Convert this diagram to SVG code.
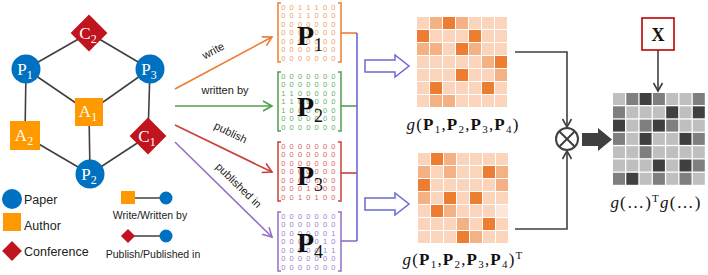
<svg xmlns="http://www.w3.org/2000/svg" width="708" height="275" viewBox="0 0 708 275">
<style>
.edge{stroke:#404040;stroke-width:1.6;fill:none}
.paper{fill:#0070c0}
.author{fill:#ff9900}
.conf{fill:#c0141e}
.nl{font-family:"Liberation Serif",serif;font-size:17px;fill:#fff;text-anchor:middle}
.nl tspan{font-size:12px}
.lg{font-family:"Liberation Sans",Arial,sans-serif;font-size:12.5px;fill:#222}
.lg2{font-family:"Liberation Sans",Arial,sans-serif;font-size:10.5px;fill:#222;text-anchor:middle}
.al{font-family:"Liberation Sans",Arial,sans-serif;font-size:11px;fill:#222;text-anchor:middle}
.dg{font-family:"Liberation Sans",Arial,sans-serif;font-size:7.5px;text-anchor:middle}
.bigP{font-family:"Liberation Serif",serif;font-size:28px;font-weight:bold;fill:#111}
.bigP tspan{font-size:18px;font-weight:normal}
.math{font-family:"Liberation Serif",serif;font-size:17px;fill:#111;letter-spacing:1.2px}
.br{fill:none;stroke-width:1.5}
.L{fill:#fbd5bb}.M{fill:#f4b183}.D{fill:#ed7d31}.V{fill:#fde7d9}
.g1{fill:#bfbfbf}.g2{fill:#7f7f7f}.g3{fill:#404040}
</style>
<defs>
<marker id="aO" markerWidth="12" markerHeight="12" refX="10" refY="6" orient="auto" markerUnits="userSpaceOnUse"><path d="M1,1 L10,6 L1,11" fill="none" stroke="#ed7d31" stroke-width="1.6"/></marker>
<marker id="aG" markerWidth="12" markerHeight="12" refX="10" refY="6" orient="auto" markerUnits="userSpaceOnUse"><path d="M1,1 L10,6 L1,11" fill="none" stroke="#4f9f4f" stroke-width="1.6"/></marker>
<marker id="aR" markerWidth="12" markerHeight="12" refX="10" refY="6" orient="auto" markerUnits="userSpaceOnUse"><path d="M1,1 L10,6 L1,11" fill="none" stroke="#c8403c" stroke-width="1.6"/></marker>
<marker id="aP" markerWidth="12" markerHeight="12" refX="10" refY="6" orient="auto" markerUnits="userSpaceOnUse"><path d="M1,1 L10,6 L1,11" fill="none" stroke="#9370c8" stroke-width="1.6"/></marker>
<marker id="aK" markerWidth="12" markerHeight="12" refX="10" refY="6" orient="auto" markerUnits="userSpaceOnUse"><path d="M2,1.5 L10,6 L2,10.5" fill="none" stroke="#404040" stroke-width="1.6"/></marker>
</defs>
<rect width="708" height="275" fill="#fff"/>

<g id="connectors">
<path class="edge" d="M26,69 L89,33 L150,69"/>
<path class="edge" d="M26,69 L89,112 L150,69"/>
<path class="edge" d="M26,69 L25,136 L90,174 L148,136 L150,69"/>
<path class="edge" d="M89,112 L90,174"/>
<line x1="128" y1="236" x2="166" y2="236" class="edge"/>
<line x1="128" y1="198" x2="166" y2="198" class="edge"/>
<line x1="175" y1="89" x2="272" y2="37" stroke="#ed7d31" stroke-width="1.6" marker-end="url(#aO)"/>
<line x1="175" y1="106" x2="272" y2="106" stroke="#4f9f4f" stroke-width="1.6" marker-end="url(#aG)"/>
<line x1="175" y1="125" x2="272" y2="172" stroke="#c8403c" stroke-width="1.6" marker-end="url(#aR)"/>
<line x1="175" y1="142" x2="272" y2="237" stroke="#9370c8" stroke-width="1.6" marker-end="url(#aP)"/>
<line x1="341" y1="33" x2="357" y2="33" stroke="#ed7d31" stroke-width="1.6"/>
<line x1="341" y1="106" x2="357" y2="106" stroke="#4f9f4f" stroke-width="1.6"/>
<line x1="341" y1="173" x2="357" y2="173" stroke="#c8403c" stroke-width="1.6"/>
<line x1="341" y1="241" x2="357" y2="241" stroke="#9370c8" stroke-width="1.6"/>
<line x1="357" y1="33" x2="357" y2="241" stroke="#6a6ad0" stroke-width="1.6"/>
<polygon points="365,60 395,60 395,55 409,66 395,77 395,72 365,72" fill="#fff" stroke="#6a6ad0" stroke-width="1.5"/>
<polygon points="365,198 395,198 395,193 409,204 395,215 395,210 365,210" fill="#fff" stroke="#6a6ad0" stroke-width="1.5"/>
<path class="edge" d="M515,52 H567 V127" marker-end="url(#aK)"/>
<path class="edge" d="M515,229 H567 V151" marker-end="url(#aK)"/>
<line x1="658" y1="50" x2="658" y2="91" class="edge" marker-end="url(#aK)"/>
<polygon points="582,133 598,133 598,128 612,139.5 598,151 598,146 582,146" fill="#404040"/>
<text class="al" transform="translate(215,54) rotate(-28)">write</text>
<text class="al" x="225" y="94">written by</text>
<text class="al" transform="translate(229,136) rotate(26)">publish</text>
<text class="al" transform="translate(236,188) rotate(44)">published in</text>
</g>

<g id="C2"><rect x="76" y="20" width="26" height="26" class="conf" transform="rotate(45 89 33)"/><text class="nl" x="88" y="39">C<tspan dy="4">2</tspan></text></g>
<g id="P1"><circle cx="26" cy="69" r="14.5" class="paper"/><text class="nl" x="25" y="75">P<tspan dy="4">1</tspan></text></g>
<g id="P3"><circle cx="150" cy="69" r="14.5" class="paper"/><text class="nl" x="149" y="75">P<tspan dy="4">3</tspan></text></g>
<g id="A1"><rect x="75" y="98" width="28" height="28" class="author"/><text class="nl" x="88" y="117">A<tspan dy="4">1</tspan></text></g>
<g id="A2"><rect x="10" y="121" width="30" height="29" class="author"/><text class="nl" x="24" y="141">A<tspan dy="4">2</tspan></text></g>
<g id="C1"><rect x="135" y="123" width="26" height="26" class="conf" transform="rotate(45 148 136)"/><text class="nl" x="147" y="142">C<tspan dy="4">1</tspan></text></g>
<g id="P2"><circle cx="90" cy="174" r="14.5" class="paper"/><text class="nl" x="89" y="180">P<tspan dy="4">2</tspan></text></g>

<g id="legend">
<circle cx="12" cy="199" r="10" class="paper"/><text class="lg" x="24" y="204">Paper</text>
<rect x="3" y="213" width="18" height="18" class="author"/><text class="lg" x="24" y="230">Author</text>
<rect x="5" y="244" width="14" height="14" class="conf" transform="rotate(45 12 251)"/><text class="lg" x="24" y="256">Conference</text>
<rect x="121" y="191" width="14" height="13" class="author"/><circle cx="166" cy="198" r="6.5" class="paper"/>
<text class="lg2" x="150" y="219">Write/Written by</text>
<rect x="123" y="231" width="10" height="10" class="conf" transform="rotate(45 128 236)"/><circle cx="166" cy="236" r="6.5" class="paper"/>
<text class="lg2" x="153" y="258">Publish/Published in</text>
</g>

<g id="matrix-P1">
<path class="br" stroke="#ed7d31" d="M281,3 H278 V62 H281 M338,3 H341 V62 H338"/>
<g class="dg" fill="#f0a060">
<text x="283.3 291.7 300 308.3 316.7 325 333.3" y="9.5">0011100</text>
<text x="283.3 291.7 300 308.3 316.7 325 333.3" y="18">0011000</text>
<text x="283.3 291.7 300 308.3 316.7 325 333.3" y="26.5">0000000</text>
<text x="283.3 291.7 300 308.3 316.7 325 333.3" y="35">0000000</text>
<text x="283.3 291.7 300 308.3 316.7 325 333.3" y="43.5">0000000</text>
<text x="283.3 291.7 300 308.3 316.7 325 333.3" y="52">0000000</text>
<text x="283.3 291.7 300 308.3 316.7 325 333.3" y="60.5">0000000</text>
</g>
<text class="bigP" x="297" y="45">P<tspan dy="6">1</tspan></text>
</g>

<g id="matrix-P2">
<path class="br" stroke="#4f9f4f" d="M281,72 H278 V131 H281 M338,72 H341 V131 H338"/>
<g class="dg" fill="#5fb05f">
<text x="283.3 291.7 300 308.3 316.7 325 333.3" y="78.5">0000000</text>
<text x="283.3 291.7 300 308.3 316.7 325 333.3" y="87">0000000</text>
<text x="283.3 291.7 300 308.3 316.7 325 333.3" y="95.5">1100000</text>
<text x="283.3 291.7 300 308.3 316.7 325 333.3" y="104">1100000</text>
<text x="283.3 291.7 300 308.3 316.7 325 333.3" y="112.5">1000000</text>
<text x="283.3 291.7 300 308.3 316.7 325 333.3" y="121">0000000</text>
<text x="283.3 291.7 300 308.3 316.7 325 333.3" y="129.5">0000000</text>
</g>
<text class="bigP" x="297" y="116">P<tspan dy="6">2</tspan></text>
</g>

<g id="matrix-P3">
<path class="br" stroke="#c8403c" d="M281,142 H278 V201 H281 M338,142 H341 V201 H338"/>
<g class="dg" fill="#e06060">
<text x="283.3 291.7 300 308.3 316.7 325 333.3" y="148.5">0000000</text>
<text x="283.3 291.7 300 308.3 316.7 325 333.3" y="157">0000000</text>
<text x="283.3 291.7 300 308.3 316.7 325 333.3" y="165.5">0000000</text>
<text x="283.3 291.7 300 308.3 316.7 325 333.3" y="174">0000000</text>
<text x="283.3 291.7 300 308.3 316.7 325 333.3" y="182.5">0000000</text>
<text x="283.3 291.7 300 308.3 316.7 325 333.3" y="191">0001000</text>
<text x="283.3 291.7 300 308.3 316.7 325 333.3" y="199.5">0010100</text>
</g>
<text class="bigP" x="297" y="185">P<tspan dy="6">3</tspan></text>
</g>

<g id="matrix-P4">
<path class="br" stroke="#9370c8" d="M281,212 H278 V271 H281 M338,212 H341 V271 H338"/>
<g class="dg" fill="#a080d0">
<text x="283.3 291.7 300 308.3 316.7 325 333.3" y="218.5">0000000</text>
<text x="283.3 291.7 300 308.3 316.7 325 333.3" y="227">0000000</text>
<text x="283.3 291.7 300 308.3 316.7 325 333.3" y="235.5">0000001</text>
<text x="283.3 291.7 300 308.3 316.7 325 333.3" y="244">0000010</text>
<text x="283.3 291.7 300 308.3 316.7 325 333.3" y="252.5">0000011</text>
<text x="283.3 291.7 300 308.3 316.7 325 333.3" y="261">0000000</text>
<text x="283.3 291.7 300 308.3 316.7 325 333.3" y="269.5">0000000</text>
</g>
<text class="bigP" x="297" y="252">P<tspan dy="6">4</tspan></text>
</g>

<g id="heatmap-g">
<rect x="417" y="17" width="12" height="12" class="L"/><rect x="430" y="17" width="12" height="12" class="M"/><rect x="443" y="17" width="12" height="12" class="D"/><rect x="456" y="17" width="12" height="12" class="M"/><rect x="469" y="17" width="12" height="12" class="L"/><rect x="482" y="17" width="12" height="12" class="L"/><rect x="495" y="17" width="12" height="12" class="L"/>
<rect x="417" y="30" width="12" height="12" class="D"/><rect x="430" y="30" width="12" height="12" class="L"/><rect x="443" y="30" width="12" height="12" class="L"/><rect x="456" y="30" width="12" height="12" class="L"/><rect x="469" y="30" width="12" height="12" class="D"/><rect x="482" y="30" width="12" height="12" class="L"/><rect x="495" y="30" width="12" height="12" class="L"/>
<rect x="417" y="43" width="12" height="12" class="M"/><rect x="430" y="43" width="12" height="12" class="M"/><rect x="443" y="43" width="12" height="12" class="L"/><rect x="456" y="43" width="12" height="12" class="D"/><rect x="469" y="43" width="12" height="12" class="M"/><rect x="482" y="43" width="12" height="12" class="L"/><rect x="495" y="43" width="12" height="12" class="L"/>
<rect x="417" y="56" width="12" height="12" class="L"/><rect x="430" y="56" width="12" height="12" class="L"/><rect x="443" y="56" width="12" height="12" class="L"/><rect x="456" y="56" width="12" height="12" class="L"/><rect x="469" y="56" width="12" height="12" class="L"/><rect x="482" y="56" width="12" height="12" class="M"/><rect x="495" y="56" width="12" height="12" class="D"/>
<rect x="417" y="69" width="12" height="12" class="L"/><rect x="430" y="69" width="12" height="12" class="L"/><rect x="443" y="69" width="12" height="12" class="L"/><rect x="456" y="69" width="12" height="12" class="D"/><rect x="469" y="69" width="12" height="12" class="L"/><rect x="482" y="69" width="12" height="12" class="L"/><rect x="495" y="69" width="12" height="12" class="M"/>
<rect x="417" y="82" width="12" height="12" class="L"/><rect x="430" y="82" width="12" height="12" class="D"/><rect x="443" y="82" width="12" height="12" class="L"/><rect x="456" y="82" width="12" height="12" class="L"/><rect x="469" y="82" width="12" height="12" class="L"/><rect x="482" y="82" width="12" height="12" class="D"/><rect x="495" y="82" width="12" height="12" class="L"/>
<rect x="417" y="95" width="12" height="12" class="L"/><rect x="430" y="95" width="12" height="12" class="M"/><rect x="443" y="95" width="12" height="12" class="M"/><rect x="456" y="95" width="12" height="12" class="L"/><rect x="469" y="95" width="12" height="12" class="L"/><rect x="482" y="95" width="12" height="12" class="L"/><rect x="495" y="95" width="12" height="12" class="L"/>
<text class="math" x="463" y="130" text-anchor="middle"><tspan font-style="italic">g</tspan>(<tspan font-weight="bold">P</tspan><tspan font-size="11" dy="3">1</tspan><tspan dy="-3">,</tspan><tspan font-weight="bold">P</tspan><tspan font-size="11" dy="3">2</tspan><tspan dy="-3">,</tspan><tspan font-weight="bold">P</tspan><tspan font-size="11" dy="3">3</tspan><tspan dy="-3">,</tspan><tspan font-weight="bold">P</tspan><tspan font-size="11" dy="3">4</tspan><tspan dy="-3">)</tspan></text>
</g>

<g id="heatmap-gT">
<rect x="418" y="153" width="12" height="12" class="L"/><rect x="431" y="153" width="12" height="12" class="D"/><rect x="444" y="153" width="12" height="12" class="M"/><rect x="457" y="153" width="12" height="12" class="L"/><rect x="470" y="153" width="12" height="12" class="L"/><rect x="483" y="153" width="12" height="12" class="L"/><rect x="496" y="153" width="12" height="12" class="L"/>
<rect x="418" y="166" width="12" height="12" class="M"/><rect x="431" y="166" width="12" height="12" class="L"/><rect x="444" y="166" width="12" height="12" class="M"/><rect x="457" y="166" width="12" height="12" class="L"/><rect x="470" y="166" width="12" height="12" class="L"/><rect x="483" y="166" width="12" height="12" class="D"/><rect x="496" y="166" width="12" height="12" class="M"/>
<rect x="418" y="179" width="12" height="12" class="D"/><rect x="431" y="179" width="12" height="12" class="L"/><rect x="444" y="179" width="12" height="12" class="L"/><rect x="457" y="179" width="12" height="12" class="L"/><rect x="470" y="179" width="12" height="12" class="L"/><rect x="483" y="179" width="12" height="12" class="L"/><rect x="496" y="179" width="12" height="12" class="M"/>
<rect x="418" y="192" width="12" height="12" class="M"/><rect x="431" y="192" width="12" height="12" class="L"/><rect x="444" y="192" width="12" height="12" class="D"/><rect x="457" y="192" width="12" height="12" class="L"/><rect x="470" y="192" width="12" height="12" class="D"/><rect x="483" y="192" width="12" height="12" class="L"/><rect x="496" y="192" width="12" height="12" class="L"/>
<rect x="418" y="205" width="12" height="12" class="L"/><rect x="431" y="205" width="12" height="12" class="D"/><rect x="444" y="205" width="12" height="12" class="M"/><rect x="457" y="205" width="12" height="12" class="L"/><rect x="470" y="205" width="12" height="12" class="L"/><rect x="483" y="205" width="12" height="12" class="L"/><rect x="496" y="205" width="12" height="12" class="V"/>
<rect x="418" y="218" width="12" height="12" class="L"/><rect x="431" y="218" width="12" height="12" class="L"/><rect x="444" y="218" width="12" height="12" class="L"/><rect x="457" y="218" width="12" height="12" class="M"/><rect x="470" y="218" width="12" height="12" class="L"/><rect x="483" y="218" width="12" height="12" class="D"/><rect x="496" y="218" width="12" height="12" class="L"/>
<rect x="418" y="231" width="12" height="12" class="L"/><rect x="431" y="231" width="12" height="12" class="L"/><rect x="444" y="231" width="12" height="12" class="L"/><rect x="457" y="231" width="12" height="12" class="D"/><rect x="470" y="231" width="12" height="12" class="M"/><rect x="483" y="231" width="12" height="12" class="L"/><rect x="496" y="231" width="12" height="12" class="L"/>
<text class="math" x="463" y="265" text-anchor="middle"><tspan font-style="italic">g</tspan>(<tspan font-weight="bold">P</tspan><tspan font-size="11" dy="3">1</tspan><tspan dy="-3">,</tspan><tspan font-weight="bold">P</tspan><tspan font-size="11" dy="3">2</tspan><tspan dy="-3">,</tspan><tspan font-weight="bold">P</tspan><tspan font-size="11" dy="3">3</tspan><tspan dy="-3">,</tspan><tspan font-weight="bold">P</tspan><tspan font-size="11" dy="3">4</tspan><tspan dy="-3">)</tspan><tspan font-size="11" dy="-6">T</tspan></text>
</g>

<g id="otimes">
<circle cx="567" cy="139" r="11" fill="#fff" stroke="#404040" stroke-width="2"/>
<path d="M559.2,131.2 L574.8,146.8 M574.8,131.2 L559.2,146.8" stroke="#404040" stroke-width="2"/>
</g>

<g id="X">
<rect x="642" y="18" width="32" height="32" fill="#fff" stroke="#c00000" stroke-width="1.6"/>
<text x="658" y="41" text-anchor="middle" font-family="'Liberation Serif',serif" font-weight="bold" font-size="18" fill="#111">X</text>
</g>

<g id="heatmap-result">
<rect x="613" y="93" width="12" height="12" class="g1"/><rect x="626.3" y="93" width="12" height="12" class="g2"/><rect x="639.6" y="93" width="12" height="12" class="g3"/><rect x="652.9" y="93" width="12" height="12" class="g2"/><rect x="666.2" y="93" width="12" height="12" class="g1"/><rect x="679.5" y="93" width="12" height="12" class="g1"/><rect x="692.8" y="93" width="12" height="12" class="g2"/>
<rect x="613" y="106.3" width="12" height="12" class="g2"/><rect x="626.3" y="106.3" width="12" height="12" class="g1"/><rect x="639.6" y="106.3" width="12" height="12" class="g1"/><rect x="652.9" y="106.3" width="12" height="12" class="g1"/><rect x="666.2" y="106.3" width="12" height="12" class="g3"/><rect x="679.5" y="106.3" width="12" height="12" class="g1"/><rect x="692.8" y="106.3" width="12" height="12" class="g3"/>
<rect x="613" y="119.6" width="12" height="12" class="g3"/><rect x="626.3" y="119.6" width="12" height="12" class="g1"/><rect x="639.6" y="119.6" width="12" height="12" class="g2"/><rect x="652.9" y="119.6" width="12" height="12" class="g3"/><rect x="666.2" y="119.6" width="12" height="12" class="g2"/><rect x="679.5" y="119.6" width="12" height="12" class="g1"/><rect x="692.8" y="119.6" width="12" height="12" class="g1"/>
<rect x="613" y="132.9" width="12" height="12" class="g2"/><rect x="626.3" y="132.9" width="12" height="12" class="g1"/><rect x="639.6" y="132.9" width="12" height="12" class="g3"/><rect x="652.9" y="132.9" width="12" height="12" class="g1"/><rect x="666.2" y="132.9" width="12" height="12" class="g1"/><rect x="679.5" y="132.9" width="12" height="12" class="g3"/><rect x="692.8" y="132.9" width="12" height="12" class="g2"/>
<rect x="613" y="146.2" width="12" height="12" class="g1"/><rect x="626.3" y="146.2" width="12" height="12" class="g1"/><rect x="639.6" y="146.2" width="12" height="12" class="g2"/><rect x="652.9" y="146.2" width="12" height="12" class="g1"/><rect x="666.2" y="146.2" width="12" height="12" class="g1"/><rect x="679.5" y="146.2" width="12" height="12" class="g1"/><rect x="692.8" y="146.2" width="12" height="12" class="g1"/>
<rect x="613" y="159.5" width="12" height="12" class="g1"/><rect x="626.3" y="159.5" width="12" height="12" class="g1"/><rect x="639.6" y="159.5" width="12" height="12" class="g1"/><rect x="652.9" y="159.5" width="12" height="12" class="g3"/><rect x="666.2" y="159.5" width="12" height="12" class="g1"/><rect x="679.5" y="159.5" width="12" height="12" class="g3"/><rect x="692.8" y="159.5" width="12" height="12" class="g2"/>
<rect x="613" y="172.8" width="12" height="12" class="g2"/><rect x="626.3" y="172.8" width="12" height="12" class="g3"/><rect x="639.6" y="172.8" width="12" height="12" class="g1"/><rect x="652.9" y="172.8" width="12" height="12" class="g2"/><rect x="666.2" y="172.8" width="12" height="12" class="g1"/><rect x="679.5" y="172.8" width="12" height="12" class="g2"/><rect x="692.8" y="172.8" width="12" height="12" class="g1"/>
<text class="math" x="656" y="208" text-anchor="middle"><tspan font-style="italic">g</tspan>(…)<tspan font-size="11" dy="-6">T</tspan><tspan font-style="italic" dy="6">g</tspan>(…)</text>
</g>
</svg>
